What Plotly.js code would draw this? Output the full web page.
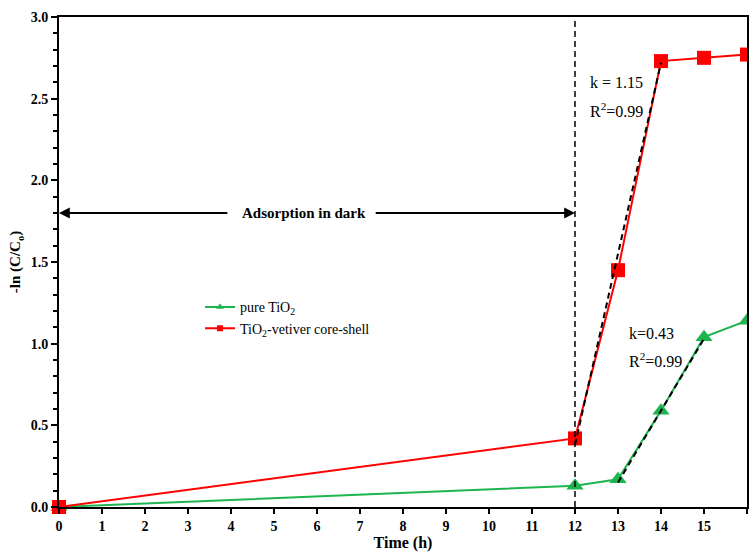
<!DOCTYPE html>
<html>
<head>
<meta charset="utf-8">
<script src="https://cdn.plot.ly/plotly-3.0.1.min.js"></script>
<style>html,body{margin:0;padding:0;background:#fff;}#chart{width:749px;height:552px;}</style>
</head>
<body>
<div id="chart"></div>
<script>
const timeH = [0, 12, 13, 14, 15, 16];
const pureTiO2 = [0, 0.13, 0.17, 0.59, 1.04, 1.14];
const coreShell = [0, 0.42, 1.45, 2.73, 2.75, 2.77];
const fitRedX = [12, 14];
const fitRedY = [0.38, 2.72];
const fitGreenX = [13, 15];
const fitGreenY = [0.15, 1.03];
const darkEnd = 12;
const seriesNames = ['pure TiO<sub>2</sub>', 'TiO<sub>2</sub>-vetiver core-shell'];
const xTicks = [0,1,2,3,4,5,6,7,8,9,10,11,12,13,14,15,16];
const yTicks = [0.0, 0.5, 1.0, 1.5, 2.0, 2.5, 3.0];

const serif = 'Liberation Serif';
const green = 'rgb(30,180,80)';
const red = 'rgb(255,0,0)';

const traces = [
  {x: timeH, y: pureTiO2, name: seriesNames[0], mode: 'lines+markers', cliponaxis: false, showlegend: false,
   line: {color: green, width: 2},
   marker: {symbol: 'triangle-up', size: 15, color: green}},
  {x: timeH, y: coreShell, name: seriesNames[1], mode: 'lines+markers', cliponaxis: false, showlegend: false,
   line: {color: red, width: 2},
   marker: {symbol: 'square', size: 14, color: red}},
  {x: fitRedX, y: fitRedY, mode: 'lines', showlegend: false, hoverinfo: 'skip',
   line: {color: 'black', width: 2, dash: '6px,4px'}},
  {x: fitGreenX, y: fitGreenY, mode: 'lines', showlegend: false, hoverinfo: 'skip',
   line: {color: 'black', width: 2, dash: '6px,4px'}},
  {x: [null], y: [null], name: seriesNames[0], mode: 'lines+markers',
   line: {color: green, width: 2}, marker: {symbol: 'triangle-up', size: 7, color: green}},
  {x: [null], y: [null], name: seriesNames[1], mode: 'lines+markers',
   line: {color: red, width: 2}, marker: {symbol: 'square', size: 6, color: red}}
];

const layout = {
  width: 749, height: 552,
  margin: {l: 59, r: 2, t: 17, b: 45},
  paper_bgcolor: '#fff', plot_bgcolor: '#fff',
  font: {family: serif, color: 'black'},
  showlegend: true,
  legend: {x: 0.205, y: 0.44, xanchor: 'left', yanchor: 'top', bgcolor: 'rgba(0,0,0,0)',
           font: {family: serif, size: 14, color: 'black'}, tracegroupgap: 0},
  xaxis: {
    range: [0, 16], tickvals: xTicks, ticktext: xTicks.map(String),
    showgrid: false, zeroline: false, showline: true, linecolor: 'black', linewidth: 2,
    mirror: true, ticks: 'outside', ticklen: 5, tickwidth: 2, tickcolor: 'black',
    tickfont: {family: serif, size: 14, color: 'black', weight: 'bold'},
    title: {text: '<b>Time (h)</b>', font: {family: serif, size: 16, color: 'black'}, standoff: 8}
  },
  yaxis: {
    range: [0, 3], tickvals: yTicks, ticktext: yTicks.map(v => v.toFixed(1)),
    showgrid: false, zeroline: false, showline: true, linecolor: 'black', linewidth: 2,
    mirror: true, ticks: 'outside', ticklen: 6, tickwidth: 2, tickcolor: 'black',
    minor: {dtick: 0.1, ticks: 'outside', ticklen: 4, tickwidth: 2, tickcolor: 'black', showgrid: false},
    tickfont: {family: serif, size: 14, color: 'black', weight: 'bold'},
    title: {text: '<b>-ln (C/C<sub>o</sub>)</b>', font: {family: serif, size: 15, color: 'black'}, standoff: 6}
  },
  shapes: [
    {type: 'line', xref: 'x', yref: 'y', x0: darkEnd, x1: darkEnd, y0: 0, y1: 3,
     line: {color: 'black', width: 1.5, dash: '6px,4px'}}
  ],
  annotations: [
    {x: 0, y: 1.8, ax: 3.95, ay: 1.8, xref: 'x', yref: 'y', axref: 'x', ayref: 'y', text: '',
     showarrow: true, arrowhead: 2, arrowsize: 1.2, arrowwidth: 1.8, arrowcolor: 'black'},
    {x: darkEnd, y: 1.8, ax: 7.33, ay: 1.8, xref: 'x', yref: 'y', axref: 'x', ayref: 'y', text: '',
     showarrow: true, arrowhead: 2, arrowsize: 1.2, arrowwidth: 1.8, arrowcolor: 'black'},
    {x: 5.7, y: 1.8, xref: 'x', yref: 'y', text: '<b>Adsorption in dark</b>', showarrow: false,
     font: {family: serif, size: 15, color: 'black'}},
    {x: 12.3, y: 2.6, xref: 'x', yref: 'y', xanchor: 'left', text: 'k = 1.15', showarrow: false,
     font: {family: serif, size: 16, color: 'black'}},
    {x: 12.3, y: 2.43, xref: 'x', yref: 'y', xanchor: 'left', text: 'R<sup>2</sup>=0.99', showarrow: false,
     font: {family: serif, size: 16, color: 'black'}},
    {x: 13.2, y: 1.06, xref: 'x', yref: 'y', xanchor: 'left', text: 'k=0.43', showarrow: false,
     font: {family: serif, size: 16, color: 'black'}},
    {x: 13.2, y: 0.9, xref: 'x', yref: 'y', xanchor: 'left', text: 'R<sup>2</sup>=0.99', showarrow: false,
     font: {family: serif, size: 16, color: 'black'}}
  ]
};

Plotly.newPlot('chart', traces, layout, {displayModeBar: false, staticPlot: true});
</script>
</body>
</html>
